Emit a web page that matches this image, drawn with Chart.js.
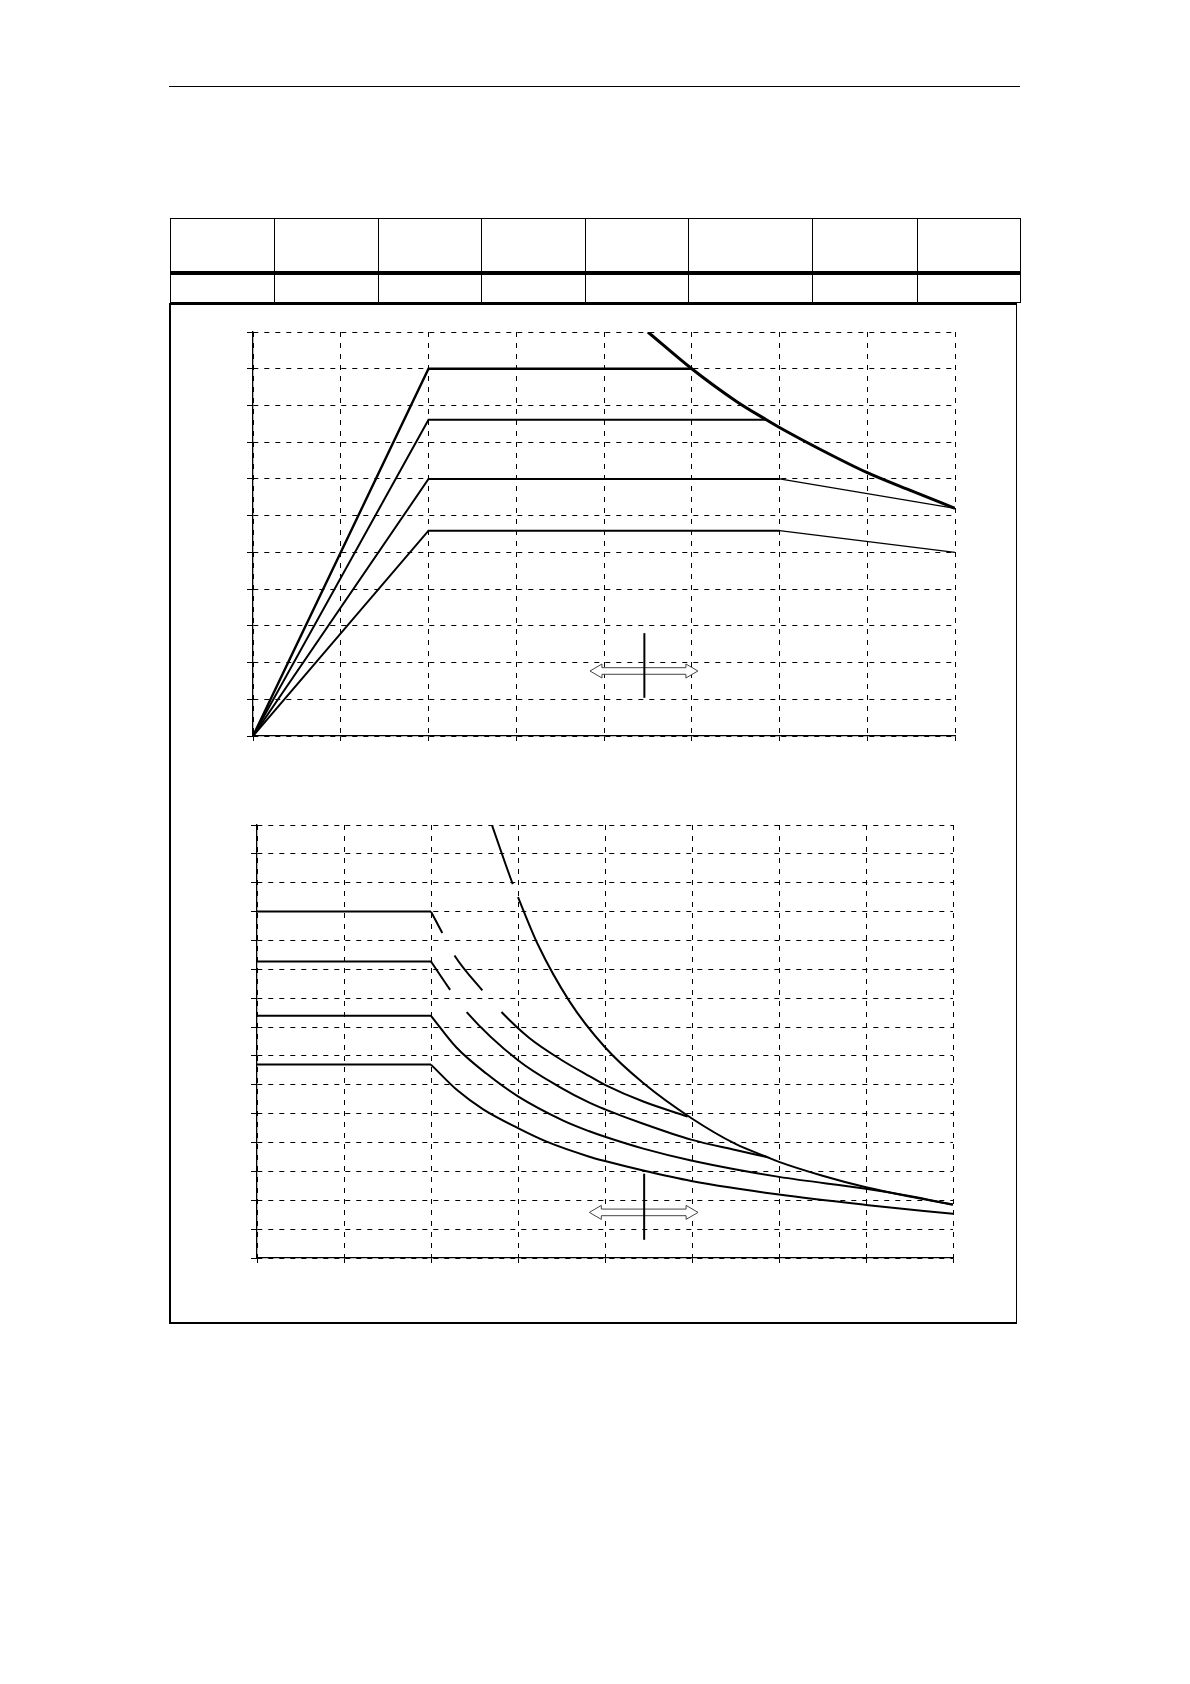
<!DOCTYPE html>
<html>
<head>
<meta charset="utf-8">
<script src="https://cdn.jsdelivr.net/npm/chart.js@4.4.1/dist/chart.umd.min.js"></script>
<style>
  body { margin: 0; background: #fff; width: 1190px; height: 1684px; position: relative; font-family: "Liberation Sans", Arial, sans-serif; }
  .rule { position: absolute; left: 169px; top: 86px; width: 851px; border-top: 1.3px solid #000; }
  table.head { position: absolute; left: 170px; top: 218px; border-collapse: collapse; table-layout: fixed; width: 850px; }
  table.head td { border: 1.3px solid #000; padding: 0; }
  table.head tr.r1 td { height: 52px; border-bottom: 4px solid #000; }
  table.head tr.r2 td { height: 27px; }
  .box { position: absolute; left: 169px; top: 303px; width: 845px; height: 1017px; border: 2px solid #000; border-right-width: 1.5px; }
  canvas { position: absolute; }
</style>
</head>
<body>
<div class="rule"></div>
<table class="head">
  <colgroup>
    <col style="width:104px"><col style="width:103.5px"><col style="width:103.5px"><col style="width:104px">
    <col style="width:103px"><col style="width:124px"><col style="width:105px"><col style="width:103px">
  </colgroup>
  <tr class="r1"><td></td><td></td><td></td><td></td><td></td><td></td><td></td><td></td></tr>
  <tr class="r2"><td></td><td></td><td></td><td></td><td></td><td></td><td></td><td></td></tr>
</table>
<div class="box"></div>
<canvas id="chartTop" width="790" height="440" style="left:200px;top:316px"></canvas>
<canvas id="chartBottom" width="790" height="470" style="left:200px;top:810px"></canvas>

<script>
// ---- upper diagram: four ramp/flat lines + limit curve ----
const topL1x = [0, 2, 5];
const topL1y = [0, 10, 10];
const topL2x = [0, 2, 5.85];
const topL2y = [0, 8.61, 8.61];
const topL3x = [0, 2, 6, 8];
const topL3y = [0, 7, 7, 6.2];
const topL4x = [0, 2, 6, 8];
const topL4y = [0, 5.59, 5.59, 5.0];
const topLimX = [4.5, 5.0, 5.51, 5.85, 6.0, 6.5, 7.0, 7.52, 8.0];
const topLimY = [11, 10, 9.11, 8.61, 8.40, 7.76, 7.17, 6.66, 6.2];

// ---- lower diagram: four flat/falling curves + limit curve ----
const botAx = [0, 2, 2.13, 2.27, 2.59, 2.81, 3.13, 3.5, 3.82, 4.0, 4.44, 4.95];
const botAy = [12, 12, 11.26, 10.48, 9.27, 8.52, 7.62, 6.86, 6.30, 6.0, 5.42, 4.9];
const botBx = [0, 2, 2.22, 2.41, 3.0, 3.48, 3.82, 4.0, 4.44, 4.99, 5.5, 5.86];
const botBy = [10.27, 10.27, 9.29, 8.52, 6.85, 5.92, 5.38, 5.15, 4.65, 4.10, 3.74, 3.50];
const botCx = [0, 2, 2.29, 2.64, 3.0, 3.52, 3.82, 4.0, 4.44, 4.99, 6.0, 7.0, 7.5, 8.0];
const botCy = [8.39, 8.39, 7.30, 6.38, 5.60, 4.76, 4.39, 4.20, 3.79, 3.38, 2.81, 2.40, 2.15, 1.85];
const botDx = [0, 2, 2.31, 2.60, 3.0, 3.33, 3.82, 4.0, 4.44, 4.99, 6.0, 7.0, 8.0];
const botDy = [6.70, 6.70, 5.79, 5.15, 4.50, 4.03, 3.51, 3.36, 3.03, 2.67, 2.20, 1.84, 1.53];
const botLimX = [2.7, 2.94, 3.0, 3.23, 3.59, 4.0, 4.44, 4.99, 5.5, 5.86, 6.0, 6.5, 7.0, 7.5, 8.0];
const botLimY = [15.0, 12.95, 12.5, 10.85, 8.9, 7.3, 6.06, 4.85, 3.95, 3.50, 3.33, 2.85, 2.45, 2.13, 1.85];

// segments left blank in the original (start x of the blank segment)
const gapsA = [2.13, 2.59];
const gapsB = [2.22];
const gapsLim = [2.94];

// double arrow marker: shaft from x0 to x1 at y, vertical bar at xv from yv0 to yv1
const arrowTop = { x0: 3.84, x1: 5.07, y: 1.77, xv: 4.46, yv0: 1.04, yv1: 2.8 };
const arrowBottom = { x0: 3.82, x1: 5.07, y: 1.58, xv: 4.45, yv0: 0.63, yv1: 2.92 };

const pts = (xs, ys) => xs.map((x, i) => ({ x: x, y: ys[i] }));

function series(xs, ys, width, gaps, thinFrom, smooth) {
  return {
    data: pts(xs, ys),
    borderColor: '#000',
    borderWidth: width,
    pointRadius: 0,
    tension: smooth ? 0.4 : 0,
    cubicInterpolationMode: smooth ? 'monotone' : 'default',
    segment: {
      borderColor: ctx => (gaps && gaps.includes(ctx.p0.parsed.x)) ? 'rgba(0,0,0,0)' : '#000',
      borderWidth: ctx => (thinFrom !== undefined && ctx.p0.parsed.x >= thinFrom) ? 1.3 : width
    }
  };
}

// flat part drawn straight, falling part smoothed, so the knee at x=2 stays sharp
function kneeCurve(xs, ys, width, gaps) {
  return [
    series(xs.slice(0, 2), ys.slice(0, 2), width),
    series(xs.slice(1), ys.slice(1), width, gaps, undefined, true)
  ];
}

const arrowPlugin = {
  id: 'flowArrow',
  afterDatasetsDraw(chart, args, opts) {
    const { ctx, scales: { x, y } } = chart;
    const xa = x.getPixelForValue(opts.x0), xb = x.getPixelForValue(opts.x1);
    const yc = y.getPixelForValue(opts.y);
    const sh = 3.3, hh = 7, hl = 12;
    ctx.save();
    ctx.beginPath();
    ctx.moveTo(xa, yc);
    ctx.lineTo(xa + hl, yc - hh);
    ctx.lineTo(xa + hl, yc - sh);
    ctx.lineTo(xb - hl, yc - sh);
    ctx.lineTo(xb - hl, yc - hh);
    ctx.lineTo(xb, yc);
    ctx.lineTo(xb - hl, yc + hh);
    ctx.lineTo(xb - hl, yc + sh);
    ctx.lineTo(xa + hl, yc + sh);
    ctx.lineTo(xa + hl, yc + hh);
    ctx.closePath();
    ctx.fillStyle = '#fff';
    ctx.fill();
    ctx.strokeStyle = '#444';
    ctx.lineWidth = 1;
    ctx.stroke();
    const xv = x.getPixelForValue(opts.xv);
    ctx.beginPath();
    ctx.moveTo(xv, y.getPixelForValue(opts.yv0));
    ctx.lineTo(xv, y.getPixelForValue(opts.yv1));
    ctx.strokeStyle = '#000';
    ctx.lineWidth = 2;
    ctx.stroke();
    ctx.restore();
  }
};

function axes(yMax) {
  const common = {
    type: 'linear',
    min: 0,
    ticks: { display: false, stepSize: 1 },
    grid: { color: '#000', lineWidth: 1, tickLength: 6, tickColor: '#000', tickWidth: 1 },
    border: { display: true, color: '#000', width: 1.3, dash: [5, 6] }
  };
  return {
    x: Object.assign({}, common, { max: 8, grid: Object.assign({}, common.grid, { tickLength: 5 }) }),
    y: Object.assign({}, common, { max: yMax })
  };
}

function baseOptions(yMax, padding, arrow) {
  return {
    responsive: false,
    animation: false,
    layout: { padding: padding },
    scales: axes(yMax),
    plugins: { legend: { display: false }, tooltip: { enabled: false }, flowArrow: arrow }
  };
}

new Chart(document.getElementById('chartTop').getContext('2d'), {
  type: 'line',
  data: {
    datasets: [
      series(topL1x, topL1y, 2.4),
      series(topL2x, topL2y, 2),
      series(topL3x, topL3y, 2, null, 6),
      series(topL4x, topL4y, 2, null, 6),
      series(topLimX, topLimY, 3, null, undefined, true)
    ]
  },
  options: baseOptions(11, { left: 47, right: 35, top: 16, bottom: 15 }, arrowTop),
  plugins: [arrowPlugin]
});

new Chart(document.getElementById('chartBottom').getContext('2d'), {
  type: 'line',
  data: {
    datasets: [
      ...kneeCurve(botAx, botAy, 2, gapsA),
      ...kneeCurve(botBx, botBy, 2, gapsB),
      ...kneeCurve(botCx, botCy, 2),
      ...kneeCurve(botDx, botDy, 2),
      series(botLimX, botLimY, 2, gapsLim, undefined, true)
    ]
  },
  options: baseOptions(15, { left: 51, right: 37, top: 15, bottom: 17 }, arrowBottom),
  plugins: [arrowPlugin]
});
</script>
</body>
</html>
